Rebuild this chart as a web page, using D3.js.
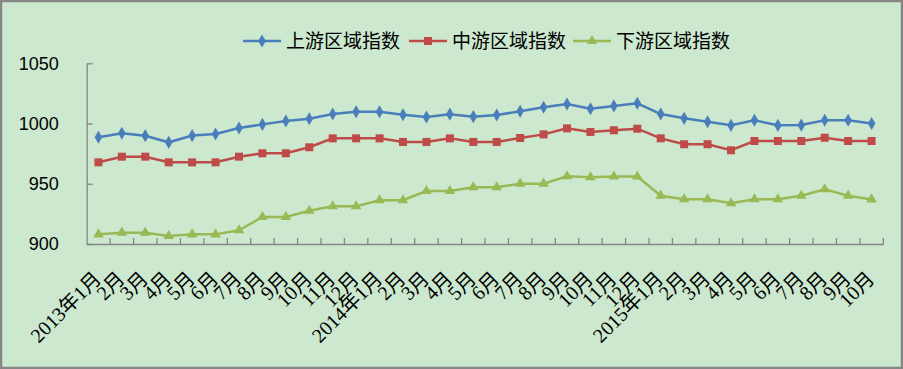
<svg width="903" height="369"></svg>

<script src="https://cdnjs.cloudflare.com/ajax/libs/d3/7.8.5/d3.min.js"></script>
<script>
	// 上游 / 中游 / 下游 区域指数, 2013年1月 - 2015年10月

	const months = ["2013年1月","2月","3月","4月","5月","6月","7月","8月","9月","10月","11月","12月",
		"2014年1月","2月","3月","4月","5月","6月","7月","8月","9月","10月","11月","12月",
		"2015年1月","2月","3月","4月","5月","6月","7月","8月","9月","10月"]

	const upstream = [988.6,991.9,989.9,984.4,990,991.3,996.3,999.3,1002.1,1004,1007.9,1009.8,
		1009.8,1007.3,1005.4,1007.8,1005.7,1007.1,1010.2,1013.5,1016.2,1012.3,1014.6,1016.8,
		1007.9,1004.3,1001.5,998.5,1002.7,998.5,998.7,1002.7,1002.7,1000]

	const midstream = [967.8,972.5,972.5,967.8,967.8,967.8,972.5,975.3,975.3,980.3,987.7,987.7,
		987.7,984.7,984.7,987.7,984.7,984.7,988,991,996,993,994.4,995.7,
		987.7,982.8,982.8,977.8,985.5,985.5,985.5,988.2,985.5,985.5]

	const downstream = [908,909.4,909.4,906.6,908,908,911.4,922.4,922.4,927.6,931.3,931.3,
		936.3,936.3,944,944,947.1,947.1,950.1,950.1,956.2,955.4,956,956,
		940.1,937.1,937.1,933.8,937.1,937.1,940,945.4,940.1,937]

	const yTicks = [900, 950, 1000, 1050]

	const series = [
		{name: "上游区域指数", values: upstream, color: "#4A7EBB", symbol: d3.symbolDiamond, size: 50},
		{name: "中游区域指数", values: midstream, color: "#BE4B48", symbol: d3.symbolSquare, size: 64},
		{name: "下游区域指数", values: downstream, color: "#98B954", symbol: d3.symbolTriangle, size: 48}
	]

	const width = 903, height = 369
	const margin = {left: 86.7, right: 19.7, top: 63.3, bottom: 125}

	const svg = d3.select(document.querySelector('svg'))
		.style("display", "block")
		.style("background", "#CCE8CF")

	d3.select("body").style("margin", 0)

	svg.append("rect")
		.attr("x", 1).attr("y", 1)
		.attr("width", width - 2).attr("height", height - 2)
		.attr("fill", "none")
		.attr("stroke", "#868686")
		.attr("stroke-width", 2.5)

	const x = d3.scaleBand()
		.domain(d3.range(months.length))
		.range([margin.left, width - margin.right])
		.padding(0)

	const y = d3.scaleLinear()
		.domain([900, 1050])
		.range([height - margin.bottom, margin.top])

	const cx = i => x(i) + x.bandwidth() / 2

	// y axis, ticks pointing inward
	const yAxis = svg.append("g")
		.attr("transform", `translate(${margin.left},0)`)
		.call(d3.axisLeft(y).tickValues(yTicks).tickFormat(d3.format("d"))
			.tickSizeInner(-6).tickSizeOuter(0).tickPadding(28))
	yAxis.selectAll("line, path").attr("stroke", "#868686").attr("stroke-width", 1.3)
	yAxis.selectAll("text")
		.attr("font-family", "Liberation Sans, sans-serif")
		.attr("font-size", 18)
		.attr("fill", "#000")

	// x axis line
	const xAxis = svg.append("g")
		.attr("transform", `translate(0,${y(900)})`)
		.call(d3.axisBottom(x).tickSize(0).tickFormat(() => ""))
	xAxis.select("path").attr("stroke", "#868686").attr("stroke-width", 1.3)

	// category boundary ticks, inward
	svg.append("g")
		.selectAll("line")
		.data(d3.range(months.length))
		.join("line")
			.attr("x1", i => x(i) + x.bandwidth())
			.attr("x2", i => x(i) + x.bandwidth())
			.attr("y1", y(900))
			.attr("y2", y(900) - 6)
			.attr("stroke", "#868686")
			.attr("stroke-width", 1.3)

	svg.append("g")
		.selectAll("text")
		.data(months)
		.join("text")
			.attr("transform", (d, i) => `translate(${cx(i) + 4},${y(900) + 36}) rotate(-45)`)
			.attr("text-anchor", "end")
			.attr("font-family", "Liberation Serif, Noto Sans CJK SC, serif")
			.attr("font-size", 20)
			.attr("fill", "#000")
			.text(d => d)

	const line = d3.line()
		.x((d, i) => cx(i))
		.y(d => y(d))

	series.forEach(s => {
		const g = svg.append("g")
		g.append("path")
			.datum(s.values)
			.attr("d", line)
			.attr("fill", "none")
			.attr("stroke", s.color)
			.attr("stroke-width", 2.5)
		g.selectAll("path.m")
			.data(s.values)
			.join("path")
				.attr("class", "m")
				.attr("transform", (d, i) => `translate(${cx(i)},${y(d)})`)
				.attr("d", d3.symbol(s.symbol, s.size))
				.attr("fill", s.color)
	})

	// legend
	const legendX = [243, 409, 573]
	const legend = svg.append("g")
		.selectAll("g")
		.data(series)
		.join("g")
			.attr("transform", (d, i) => `translate(${legendX[i]},41)`)

	legend.append("line")
		.attr("x1", 0).attr("x2", 38)
		.attr("stroke", d => d.color)
		.attr("stroke-width", 2.5)
	legend.append("path")
		.attr("transform", "translate(19,0)")
		.attr("d", d => d3.symbol(d.symbol, d.size)())
		.attr("fill", d => d.color)
	legend.append("text")
		.attr("x", 43)
		.attr("dy", "0.36em")
		.attr("font-family", "Noto Sans CJK SC, sans-serif")
		.attr("font-size", 19)
		.attr("fill", "#000")
		.text(d => d.name)
</script>
